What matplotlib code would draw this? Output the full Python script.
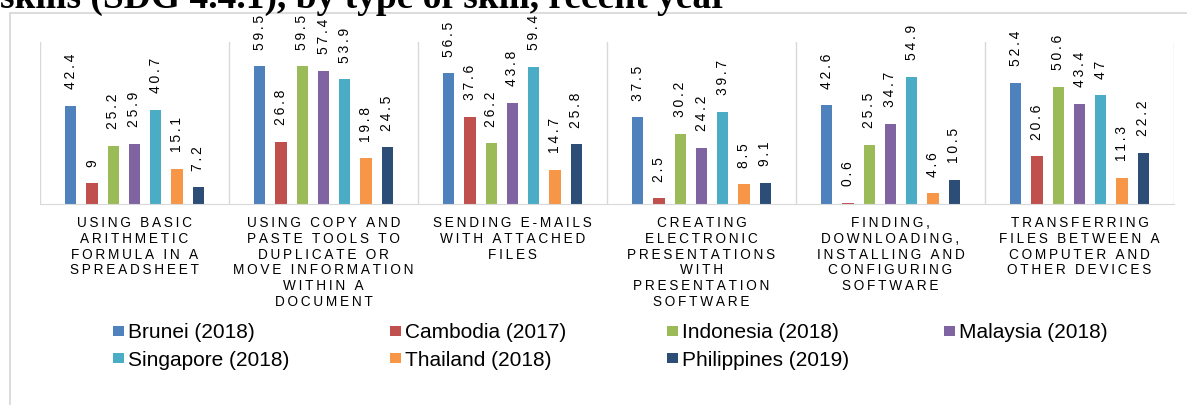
import matplotlib
matplotlib.use("Agg")
import matplotlib.pyplot as plt
from matplotlib.patches import Rectangle
import numpy as np

skills = [
    "USING BASIC\nARITHMETIC\nFORMULA IN A\nSPREADSHEET",
    "USING COPY AND\nPASTE TOOLS TO\nDUPLICATE OR\nMOVE INFORMATION\nWITHIN A\nDOCUMENT",
    "SENDING E-MAILS\nWITH ATTACHED\nFILES",
    "CREATING\nELECTRONIC\nPRESENTATIONS\nWITH\nPRESENTATION\nSOFTWARE",
    "FINDING,\nDOWNLOADING,\nINSTALLING AND\nCONFIGURING\nSOFTWARE",
    "TRANSFERRING\nFILES BETWEEN A\nCOMPUTER AND\nOTHER DEVICES",
]

countries = ["Brunei (2018)", "Cambodia (2017)", "Indonesia (2018)", "Malaysia (2018)",
             "Singapore (2018)", "Thailand (2018)", "Philippines (2019)"]

brunei = [42.4, 59.5, 56.5, 37.5, 42.6, 52.4]
cambodia = [9, 26.8, 37.6, 2.5, 0.6, 20.6]
indonesia = [25.2, 59.5, 26.2, 30.2, 25.5, 50.6]
malaysia = [25.9, 57.4, 43.8, 24.2, 34.7, 43.4]
singapore = [40.7, 53.9, 59.4, 39.7, 54.9, 47]
thailand = [15.1, 19.8, 14.7, 8.5, 4.6, 11.3]
philippines = [7.2, 24.5, 25.8, 9.1, 10.5, 22.2]

series = [brunei, cambodia, indonesia, malaysia, singapore, thailand, philippines]
colors = ["#4F81BD", "#C0504D", "#9BBB59", "#8064A2", "#4BACC6", "#F79646", "#2C4D75"]

title = "skills (SDG 4.4.1), by type of skill, recent year"

FONT = ["Liberation Sans", "DejaVu Sans"]
W, H = 1187, 405


def spaced(s):
    # imitate Excel character spacing with thin spaces
    return "\n".join("\u2009".join(line) for line in s.split("\n"))


fig = plt.figure(figsize=(W / 100, H / 100), dpi=100)

# outer chart frame
fig.add_artist(Rectangle((10 / W, -0.2), 1.2, (1 - 13 / H) + 0.2, transform=fig.transFigure,
                         fill=False, edgecolor="#d9d9d9", lw=1.3))
fig.text(0.0, 1 - 8 / H, title, family=["Liberation Serif", "DejaVu Serif"],
         weight="bold", fontsize=27, va="baseline", ha="left")

ax = fig.add_axes([40 / W, 1 - 204 / H, (1174 - 40) / W, (204 - 42) / H])
x = np.arange(len(skills))
slot = 0.1127
bw = 0.06
for i, (vals, c) in enumerate(zip(series, colors)):
    xs = x + (i - 3) * slot
    ax.bar(xs, vals, width=bw, color=c, zorder=2)
    for xi, v in zip(xs, vals):
        ax.annotate(spaced(f"{v:g}"), (xi, v), xytext=(0, 12), textcoords="offset points",
                    rotation=90, ha="center", va="bottom", fontsize=10, family=FONT,
                    color="#000000", annotation_clip=False)

for b in np.arange(-0.5, len(skills), 1.0):
    ax.axvline(b, color="#d9d9d9", lw=1, zorder=1)

for xi, lab in zip(x, skills):
    ax.annotate(spaced(lab), (xi, 0), xycoords=("data", "axes fraction"), xytext=(0, -8.5),
                textcoords="offset points", ha="center", va="top", multialignment="center",
                fontsize=9.8, family=FONT, linespacing=1.17, annotation_clip=False)

ax.set_xlim(-0.5, len(skills) - 0.5)
ax.set_ylim(0, 70)
for s in ["top", "left", "right"]:
    ax.spines[s].set_visible(False)
ax.spines["bottom"].set_color("#d9d9d9")
ax.set_xticks([])
ax.set_yticks([])

# legend laid out like Excel: equal column widths, filled row-wise
for i, (name, c) in enumerate(zip(countries, colors)):
    col, row = i % 4, i // 4
    px = 113 + col * 277
    py = 331 + row * 27
    fig.add_artist(Rectangle((px / W, 1 - (py + 5) / H), 11 / W, 10 / H,
                             transform=fig.transFigure, color=c, lw=0))
    fig.text((px + 15) / W, 1 - py / H, name, family=FONT, fontsize=15,
             va="center_baseline", ha="left")

fig.savefig("out.png", dpi=100)
